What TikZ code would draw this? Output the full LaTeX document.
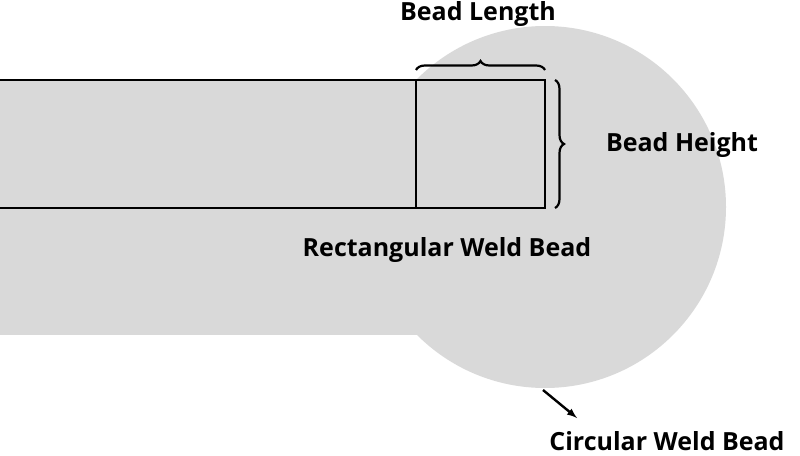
\documentclass[tikz,border=0pt]{standalone}
\usepackage{fontspec}
\setmainfont{Open Sans}[BoldFont={Open Sans Bold}]
\usetikzlibrary{decorations.pathreplacing}
\tikzset{
  lbl/.style={font=\bfseries\fontsize{25}{28}\selectfont, inner sep=0pt},
  brc/.style={decorate, decoration={brace, amplitude=9pt}, line width=2.2pt},
  bead/.style={line width=2.4pt}
}
\begin{document}
\begin{tikzpicture}[x=1pt,y=-1pt]
\useasboundingbox (0,0) rectangle (800,455);
% gray weld region
\fill[gray!30] (0,80) rectangle (545,335);
\fill[gray!30] (545,207) circle (181);
% rectangular bead
\draw[bead] (0,80) -- (545,80) -- (545,208) -- (0,208);
\draw[bead] (416,80) -- (416,208);
% braces
\draw[brc] (416,70) -- (545,70);
\draw[brc] (555,80) -- (555,208);
\node[lbl] (len) at (478,14) {Bead Length};
\node[lbl] (hgt) at (682,145) {Bead Height};
\node[lbl] (rect) at (447,250) {Rectangular Weld Bead};
\node[lbl] (circ) at (667,441) {Circular Weld Bead};
\coordinate (edge) at (543,390);
\draw[-latex, line width=2.4pt] (edge) -- (577,418);
\end{tikzpicture}
\end{document}
